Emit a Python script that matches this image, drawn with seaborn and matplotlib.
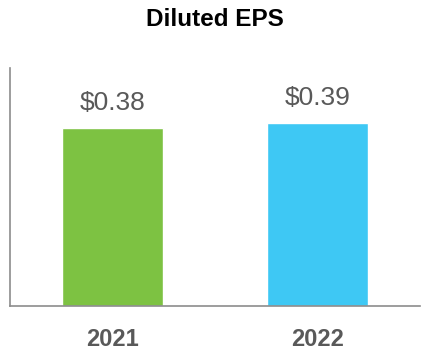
import matplotlib
matplotlib.use("Agg")
import matplotlib.pyplot as plt
import seaborn as sns
import pandas as pd

years = ["2021", "2022"]
eps = [0.38, 0.39]
bar_colors = ["#7DC242", "#3EC8F4"]

sns.set_style("white")
plt.rcParams["font.family"] = ["Liberation Sans", "DejaVu Sans"]

df = pd.DataFrame({"year": years, "eps": eps})

fig = plt.figure(figsize=(4.3, 3.6), dpi=100)
ax = fig.add_axes([0.0233, 0.15, 0.9534, 0.661])

sns.barplot(data=df, x="year", y="eps", hue="year", palette=bar_colors,
            width=0.49, legend=False, ax=ax, saturation=1)

# value labels above bars
for p, v in zip(ax.patches, eps):
    ax.annotate(f"${v:.2f}", (p.get_x() + p.get_width() / 2, p.get_height()),
                xytext=(0, 9), textcoords="offset points", ha="center", va="bottom",
                fontsize=19, color="#595959")

ax.set_xlim(-0.5, 1.5)
ax.set_ylim(0, 0.507)
ax.set_xlabel("")
ax.set_ylabel("")
ax.set_yticks([])
ax.tick_params(axis="x", length=0, pad=16)
for lab in ax.get_xticklabels():
    lab.set_fontsize(17)
    lab.set_fontweight("bold")
    lab.set_color("#595959")

for s in ["top", "right"]:
    ax.spines[s].set_visible(False)
for s in ["left", "bottom"]:
    ax.spines[s].set_color("#8c8c8c")
    ax.spines[s].set_linewidth(1.2)

fig.text(0.5, 0.945, "Diluted EPS", ha="center", va="center",
         fontsize=17.5, fontweight="bold", color="black")

fig.savefig("out.png", dpi=100)
